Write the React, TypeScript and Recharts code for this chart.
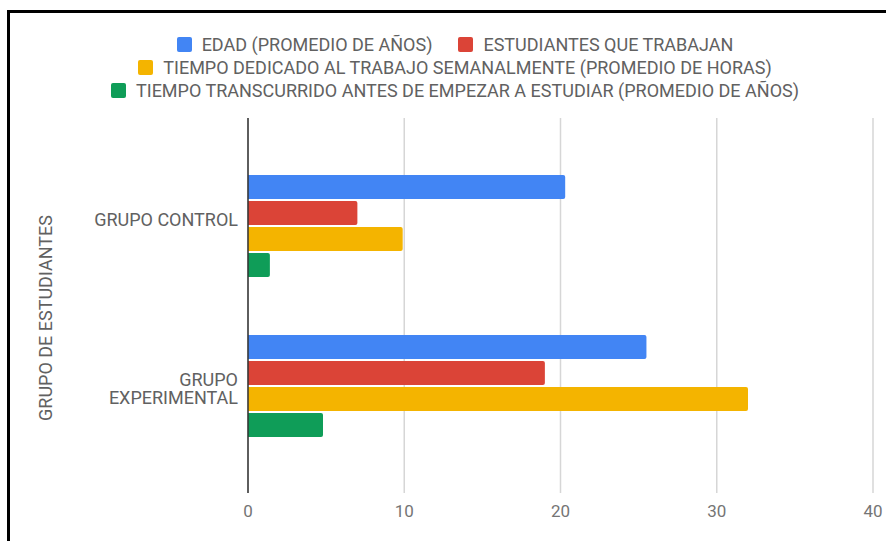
import { BarChart, Bar, XAxis, YAxis, CartesianGrid, Text } from "recharts";

// Grupos y series
const grupos = ["GRUPO CONTROL", "GRUPO EXPERIMENTAL"];
const edad = [20.3, 25.5];
const trabajan = [7.0, 19.0];
const horas = [9.9, 32.0];
const antes = [1.4, 4.8];
const xTicks = [0, 10, 20, 30, 40];

const series = [
    { key: "edad", name: "EDAD (PROMEDIO DE AÑOS)", color: "#4285F4", values: edad },
    { key: "trabajan", name: "ESTUDIANTES QUE TRABAJAN", color: "#DB4437", values: trabajan },
    { key: "horas", name: "TIEMPO DEDICADO AL TRABAJO SEMANALMENTE (PROMEDIO DE HORAS)", color: "#F4B400", values: horas },
    { key: "antes", name: "TIEMPO TRANSCURRIDO ANTES DE EMPEZAR A ESTUDIAR (PROMEDIO DE AÑOS)", color: "#0F9D58", values: antes },
];
const legendRows = [[0, 1], [2], [3]];

const data = grupos.map((g, i) => {
    const row: Record<string, string | number> = { grupo: g };
    series.forEach((s) => { row[s.key] = s.values[i]; });
    return row;
});

const FONT = "Roboto, sans-serif";
const TEXT = "#616161";

function GroupTick({ x, y, payload }: any) {
    return (
        <Text
            x={x}
            y={y}
            width={160}
            textAnchor="end"
            verticalAnchor="middle"
            lineHeight={18}
            fill={TEXT}
            fontSize={18}
            fontFamily={FONT}
            style={{ fontSize: 18, fontFamily: FONT }}
        >
            {payload.value}
        </Text>
    );
}

function YTitle() {
    return (
        <text
            x={45}
            y={318}
            transform="rotate(-90 45 318)"
            textAnchor="middle"
            dominantBaseline="central"
            fill={TEXT}
            fontSize={18}
            fontFamily={FONT}
        >
            GRUPO DE ESTUDIANTES
        </text>
    );
}

export default function App() {
    return (
        <div style={{ position: "absolute", left: 0, top: 0, width: 886, height: 541, overflow: "hidden", background: "#fff" }}>
            <div style={{ position: "absolute", left: 7, top: 10, width: 879, height: 531, borderTop: "3px solid #000", borderLeft: "3px solid #000", boxSizing: "border-box" }} />
            <div style={{ position: "absolute", left: 24, top: 33, width: 862, fontFamily: FONT, fontSize: 18, color: TEXT }}>
                {legendRows.map((row, ri) => (
                    <div key={ri} style={{ display: "flex", justifyContent: "center", gap: 26, height: 23, lineHeight: "23px" }}>
                        {row.map((si) => (
                            <div key={si} style={{ display: "inline-flex", alignItems: "center", whiteSpace: "nowrap" }}>
                                <span style={{ width: 15, height: 15, borderRadius: 2, background: series[si].color, marginRight: 10, display: "inline-block" }} />
                                {series[si].name}
                            </div>
                        ))}
                    </div>
                ))}
            </div>
            <div style={{ position: "absolute", left: 0, top: 0 }}>
                <BarChart
                    width={886}
                    height={541}
                    data={data}
                    layout="vertical"
                    margin={{ top: 118, right: 13, bottom: 0, left: 0 }}
                    barCategoryGap={29}
                    barGap={2}
                >
                    <CartesianGrid horizontal={false} stroke="#d6d6d6" strokeWidth={1.5} />
                    <XAxis
                        type="number"
                        domain={[0, 40]}
                        ticks={xTicks}
                        axisLine={false}
                        tickLine={false}
                        tickMargin={6}
                        height={48}
                        tick={{ fontSize: 17, fill: "#757575", fontFamily: FONT }}
                    />
                    <YAxis
                        type="category"
                        dataKey="grupo"
                        width={248}
                        padding={{ top: 28, bottom: 27 }}
                        axisLine={{ stroke: "#333", strokeWidth: 1.5 }}
                        tickLine={false}
                        tickMargin={4}
                        tick={<GroupTick />}
                        label={{ content: () => <YTitle /> }}
                    />
                    {series.map((s) => (
                        <Bar
                            key={s.key}
                            dataKey={s.key}
                            name={s.name}
                            fill={s.color}
                            radius={[0, 2, 2, 0]}
                            isAnimationActive={false}
                        />
                    ))}
                </BarChart>
            </div>
        </div>
    );
}
